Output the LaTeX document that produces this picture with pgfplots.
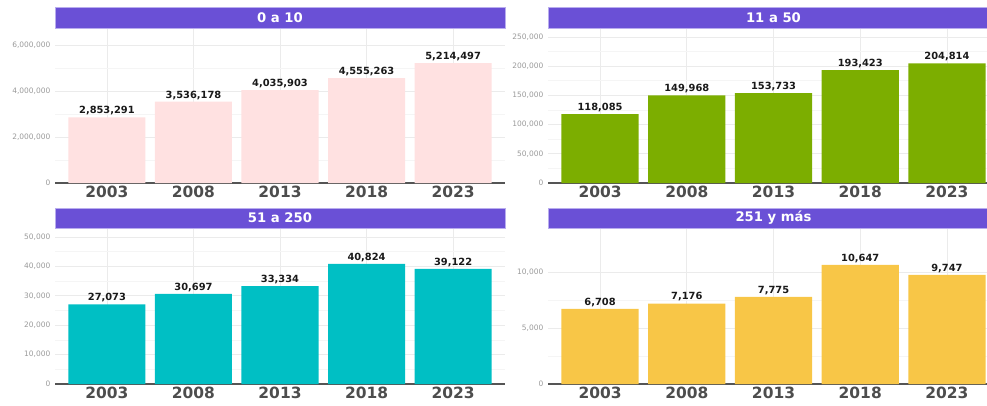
\documentclass[border=0pt]{standalone}
\usepackage{pgfplots}
\pgfplotsset{compat=1.18}
\usepackage{fontspec}
\setmainfont{DejaVu Sans}

\definecolor{strip}{HTML}{6A50D6}
\definecolor{stripedge}{HTML}{B9ADEE}
\definecolor{c1}{HTML}{FFE1E1}
\definecolor{c2}{HTML}{7CAE00}
\definecolor{c3}{HTML}{00BFC4}
\definecolor{c4}{HTML}{F8C647}
\definecolor{axisgray}{HTML}{555555}
\definecolor{yeargray}{HTML}{4D4D4D}

\pgfplotsset{
  panel/.style={
    scale only axis,
    anchor=south west,
    ybar, bar width=0.89,
    xmin=0.4, xmax=5.6, ymin=0,
    xtick={1,2,3,4,5},
    xticklabels={2003,2008,2013,2018,2023},
    xticklabel style={font=\fontsize{11.6}{12}\selectfont\bfseries, text=yeargray, yshift=1pt},
    yticklabel style={font=\fontsize{5.6}{6}\selectfont, text=gray!80},
    /pgf/number format/.cd, fixed, precision=0, 1000 sep={,}, assume math mode=true,
    /pgfplots/.cd,
    scaled y ticks=false,
    major tick length=0pt, minor tick length=0pt,
    ymajorgrids, xmajorgrids, yminorgrids,
    minor y tick num=1,
    major grid style={draw=black!8, line width=0.6pt},
    minor grid style={draw=black!4, line width=0.5pt},
    axis x line*=bottom, axis y line*=left,
    x axis line style={draw=axisgray, line width=1.3pt, -},
    y axis line style={draw=none},
    nodes near coords,
    point meta=explicit symbolic,
    nodes near coords style={font=\fontsize{7.4}{8}\selectfont\bfseries, text=black!90, inner sep=1.5pt, anchor=south},
    axis on top=false,
  },
}

\begin{document}
\begin{tikzpicture}
% 0 a 10
\begin{axis}[panel, at={(41.25pt,166.5pt)}, width=337.5pt, height=116.25pt,
  ymax=6739000, ytick={0,2000000,4000000,6000000}]
\addplot[fill=c1, draw=none] table[x=x, y=y, meta=lab] {
x y lab
1 2853291 {2,853,291}
2 3536178 {3,536,178}
3 4035903 {4,035,903}
4 4555263 {4,555,263}
5 5214497 {5,214,497}
};
\end{axis}
% 11 a 50
\begin{axis}[panel, at={(411pt,166.5pt)}, width=338.25pt, height=116.25pt,
  ymax=265400, ytick={0,50000,100000,150000,200000,250000}]
\addplot[fill=c2, draw=none] table[x=x, y=y, meta=lab] {
x y lab
1 118085 {118,085}
2 149968 {149,968}
3 153733 {153,733}
4 193423 {193,423}
5 204814 {204,814}
};
\end{axis}
% 51 a 250
\begin{axis}[panel, at={(41.25pt,15.75pt)}, width=337.5pt, height=117pt,
  ymax=53060, ytick={0,10000,20000,30000,40000,50000}]
\addplot[fill=c3, draw=none] table[x=x, y=y, meta=lab] {
x y lab
1 27073 {27,073}
2 30697 {30,697}
3 33334 {33,334}
4 40824 {40,824}
5 39122 {39,122}
};
\end{axis}
% 251 y mas
\begin{axis}[panel, at={(411pt,15.75pt)}, width=338.25pt, height=117pt,
  ymax=13930, ytick={0,5000,10000}]
\addplot[fill=c4, draw=none] table[x=x, y=y, meta=lab] {
x y lab
1 6708 {6,708}
2 7176 {7,176}
3 7775 {7,775}
4 10647 {10,647}
5 9747 {9,747}
};
\end{axis}

% strips
\tikzset{striptext/.style={text=white, font=\fontsize{9.9}{11}\selectfont\bfseries}}
\draw[fill=strip, draw=stripedge, line width=0.6pt] (41.25pt,282.75pt) rectangle (378.75pt,298.5pt);
\node[striptext] at (210pt,290.6pt) {0 a 10};
\draw[fill=strip, draw=stripedge, line width=0.6pt] (411pt,282.75pt) rectangle (749.25pt,298.5pt);
\node[striptext] at (580.1pt,290.6pt) {11 a 50};
\draw[fill=strip, draw=stripedge, line width=0.6pt] (41.25pt,132.75pt) rectangle (378.75pt,147.75pt);
\node[striptext] at (210pt,140.25pt) {51 a 250};
\draw[fill=strip, draw=stripedge, line width=0.6pt] (411pt,132.75pt) rectangle (749.25pt,147.75pt);
\node[striptext] at (580.1pt,140.25pt) {251 y más};

\pgfresetboundingbox
\path[use as bounding box] (0,0) rectangle (740.25pt,303.75pt);
\end{tikzpicture}
\end{document}
